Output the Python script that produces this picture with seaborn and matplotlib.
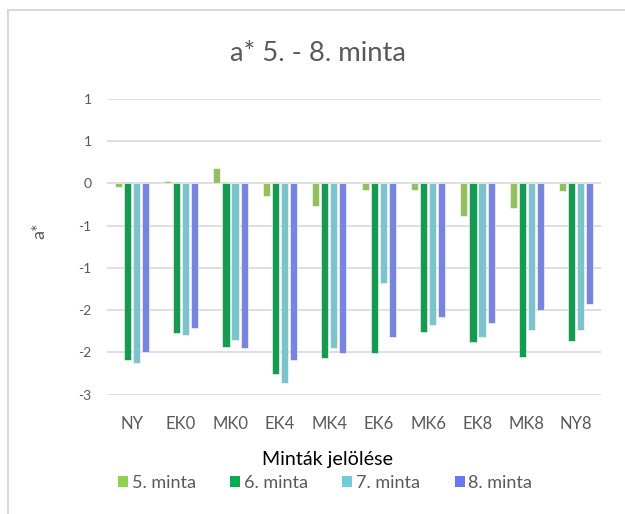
import matplotlib
matplotlib.use("Agg")
import matplotlib.pyplot as plt
import seaborn as sns
import pandas as pd
from matplotlib.patches import Rectangle
from matplotlib.lines import Line2D

categories = ["NY", "EK0", "MK0", "EK4", "MK4", "EK6", "MK6", "EK8", "MK8", "NY8"]
series_names = ["5. minta", "6. minta", "7. minta", "8. minta"]
s5 = [-0.04, 0.03, 0.18, -0.15, -0.27, -0.08, -0.075, -0.39, -0.29, -0.09]
s6 = [-2.09, -1.77, -1.94, -2.25, -2.06, -2.01, -1.76, -1.88, -2.05, -1.86]
s7 = [-2.13, -1.79, -1.85, -2.36, -1.95, -1.18, -1.67, -1.82, -1.74, -1.73]
s8 = [-2.00, -1.71, -1.95, -2.09, -2.01, -1.82, -1.58, -1.65, -1.50, -1.43]
y_ticks = [1.0, 0.5, 0.0, -0.5, -1.0, -1.5, -2.0, -2.5]
y_tick_labels = ["1", "1", "0", "-1", "-1", "-2", "-2", "-3"]
colors = ["#92D050", "#00B050", "#70CDD8", "#6778F0"]

rows = []
for name, vals in zip(series_names, [s5, s6, s7, s8]):
    for c, v in zip(categories, vals):
        rows.append({"cat": c, "series": name, "val": v})
df = pd.DataFrame(rows)

sns.set_theme(style="white")
plt.rcParams["font.family"] = ["Lato", "DejaVu Sans"]

fig = plt.figure(figsize=(6.25, 5.14), dpi=100)
W, H = 625, 514
ax = fig.add_axes([107 / W, 1 - 394.7 / H, (601 - 107) / W, (394.7 - 99) / H])

sns.barplot(data=df, x="cat", y="val", hue="series", order=categories,
            hue_order=series_names, palette=colors, width=0.73, gap=0.22,
            edgecolor="white", linewidth=0.4, ax=ax, legend=False, zorder=3)

ax.set_ylim(-2.5, 1.0)
ax.set_yticks(y_ticks)
ax.set_yticklabels(y_tick_labels, fontsize=10, color="#595959")
ax.set_xlim(-0.5, len(categories) - 0.5)
ax.tick_params(axis="x", labelsize=12, labelcolor="#595959", length=0, pad=15)
ax.tick_params(axis="y", length=0, pad=11)
for t in y_ticks:
    ax.axhline(t, color="#D9D9D9", lw=1.2, zorder=0)
for sp in ax.spines.values():
    sp.set_visible(False)
ax.set_xlabel("")
ax.set_ylabel("")

fig.text(39 / W, 1 - 231 / H, "a*", rotation=90, ha="center", va="center",
         fontsize=13, color="#595959")
title = fig.text(318 / W, 1 - 61 / H, "a* 5. - 8. minta", ha="center", va="baseline",
                 fontsize=17, color="#595959")
xlab = fig.text(328 / W, 1 - 460 / H, "Minták jelölése", ha="center", va="center",
                fontsize=13, color="black")

handles = [Rectangle((0, 0), 1, 1, facecolor=c, edgecolor="none") for c in colors]


def make_legend(cs):
    return fig.legend(handles, series_names, loc="center",
                      bbox_to_anchor=(325 / W, 1 - 483 / H),
                      ncol=4, frameon=False, fontsize=13, labelcolor="#595959",
                      handlelength=0.55, handleheight=0.55, handletextpad=0.2,
                      columnspacing=cs, borderpad=0, borderaxespad=0)


# fit text widths to the reference extents
fig.canvas.draw()
r = fig.canvas.get_renderer()
tw = title.get_window_extent(r).width
title.set_fontsize(17 * 176 / tw)
xw = xlab.get_window_extent(r).width
xlab.set_fontsize(13 * 130 / xw)

cs = 1.5
leg = make_legend(cs)
for _ in range(4):
    fig.canvas.draw()
    w = leg.get_window_extent(fig.canvas.get_renderer()).width
    leg.remove()
    cs = cs + (414 - w) / 3 / (13 * 100 / 72)
    leg = make_legend(cs)

# outer chart border (left and top)
fig.add_artist(Line2D([7.5 / W, 7.5 / W], [0, 1 - 10 / H], color="#D9D9D9", lw=1.5,
                      transform=fig.transFigure))
fig.add_artist(Line2D([7.5 / W, 1], [1 - 10 / H, 1 - 10 / H], color="#D9D9D9", lw=1.5,
                      transform=fig.transFigure))

fig.savefig("out.png", dpi=100)
